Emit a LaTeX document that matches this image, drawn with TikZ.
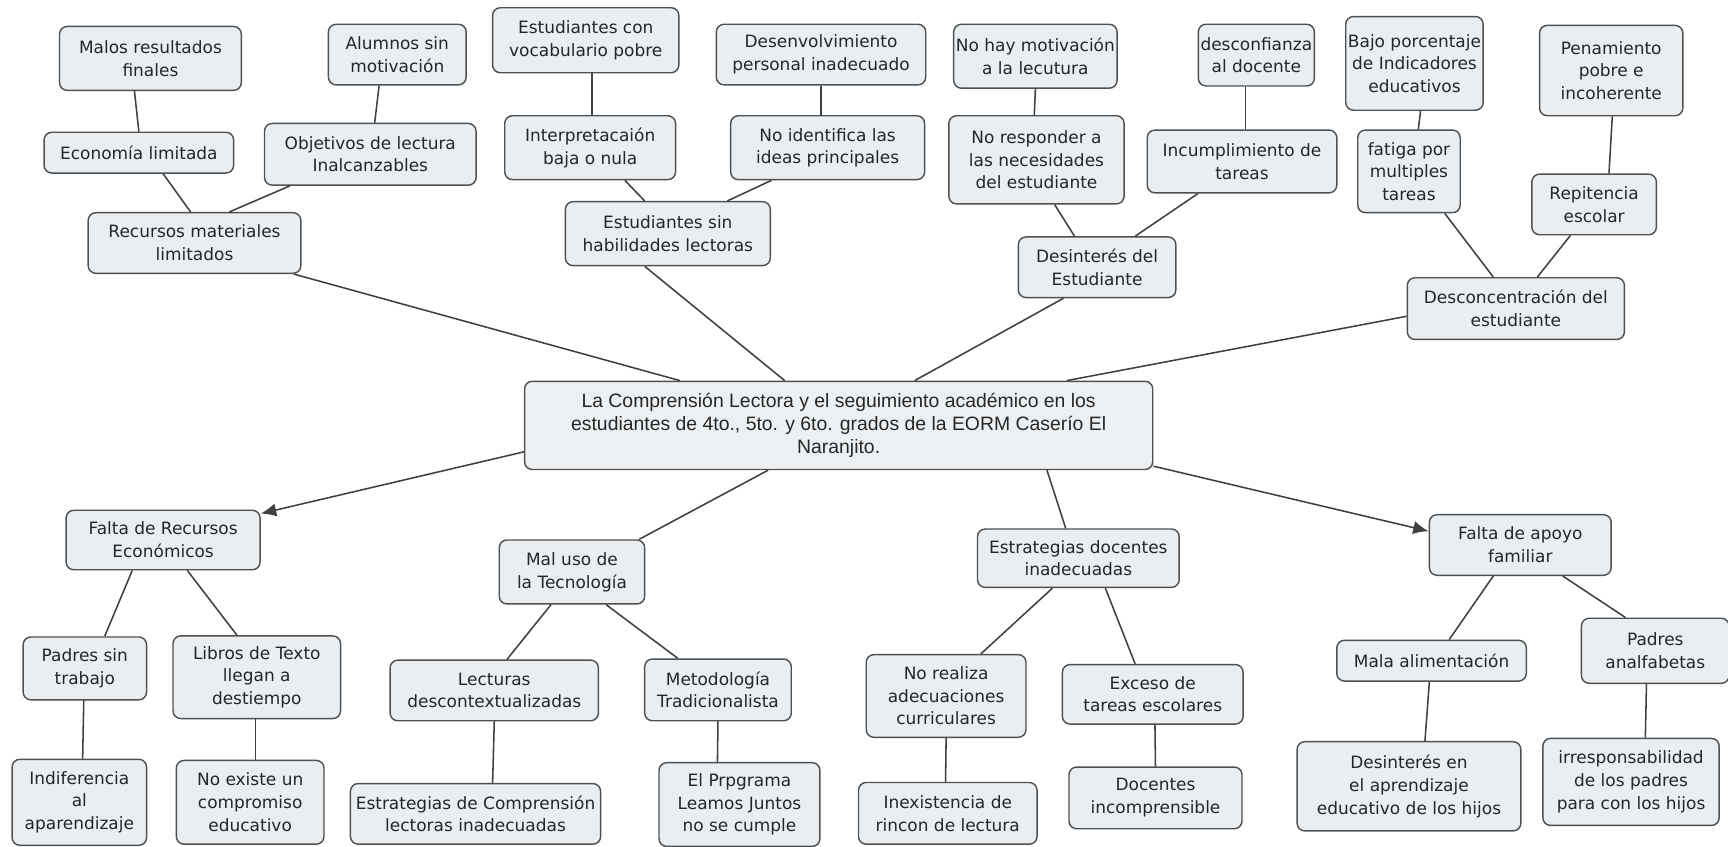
\documentclass[tikz,border=0pt]{standalone}
\usepackage{fontspec}
\setmainfont{DejaVu Sans}
\newfontfamily\cfont{Liberation Sans}
\usetikzlibrary{arrows.meta,calc}
\definecolor{boxfill}{HTML}{E8EEF2}
\definecolor{cfill}{HTML}{EDF0F2}
\definecolor{boxline}{HTML}{505050}
\definecolor{linkc}{HTML}{404040}
\definecolor{txt}{HTML}{262626}
\tikzset{
  cbox/.style={draw=boxline, fill=boxfill, text=txt, rounded corners=3.5pt, line width=0.65pt, align=center,
    font=\fontsize{7.7}{10.3}\selectfont, inner sep=1pt},
  sz/.style 2 args={minimum width=#1*0.5pt, minimum height=#2*0.5pt},
  link/.style={draw=linkc, line width=0.7pt},
  arr/.style={link, -{Latex[length=7pt,width=6pt]}},
}
\begin{document}
\begin{tikzpicture}[x=0.5pt,y=-0.5pt]
\useasboundingbox[fill=white] (0,0) rectangle (1568,768);
% top
\node[cbox,sz={165}{58}] (malos) at (136.5,53) {Malos resultados\\finales};
\node[cbox,sz={125}{55}] (alumnos) at (360.5,49.5) {Alumnos sin\\motivación};
\node[cbox,sz={169}{59}] (vocab) at (531.5,36.5) {Estudiantes con\\vocabulario pobre};
\node[cbox,sz={190}{55}] (desenv) at (745,49.5) {Desenvolvimiento\\personal inadecuado};
\node[cbox,sz={141}{58}] (nohay) at (939.5,51) {No hay motivación\\a la lecutura};
\node[cbox,sz={94}{56}] (descon) at (1140,50) {desconfianza\\al docente};
\node[cbox,sz={123}{85}] (bajo) at (1283.5,57.5) {Bajo porcentaje\\de Indicadores\\educativos};
\node[cbox,sz={130}{82}] (pena) at (1462,64) {Penamiento\\pobre e\\incoherente};
\node[cbox,sz={172}{37}] (eco) at (126,138.5) {Economía limitada};
\node[cbox,sz={192}{56}] (obj) at (336,140) {Objetivos de lectura\\Inalcanzables};
\node[cbox,sz={155}{58}] (interp) at (535.5,134) {Interpretacaión\\baja o nula};
\node[cbox,sz={176}{58}] (noiden) at (751,134) {No identifica las\\ideas principales};
\node[cbox,sz={159}{80}] (noresp) at (940.5,145) {No responder a\\las necesidades\\del estudiante};
\node[cbox,sz={172}{57}] (incump) at (1127,146.5) {Incumplimiento de\\tareas};
\node[cbox,sz={93}{75}] (fatiga) at (1278.5,155.5) {fatiga por\\multiples\\tareas};
\node[cbox,sz={113}{55}] (repit) at (1446.5,185.5) {Repitencia\\escolar};
\node[cbox,sz={193}{55}] (recursos) at (176.5,220.5) {Recursos materiales\\limitados};
\node[cbox,sz={186}{58}] (sinhab) at (606,212) {Estudiantes sin\\habilidades lectoras};
\node[cbox,sz={143}{55}] (desint) at (995.5,242.5) {Desinterés del\\Estudiante};
\node[cbox,sz={197}{56}] (descc) at (1375.5,280) {Desconcentración del\\estudiante};
% center
\node[cbox,fill=cfill,sz={570}{80},font={\cfont\fontsize{8.8}{10.5}\selectfont}] (ctr) at (761,386)
  {La Comprensión Lectora y el seguimiento académico en los\\estudiantes de 4to., 5to. y 6to. grados de la EORM Caserío El\\Naranjito.};
% bottom
\node[cbox,sz={176}{54}] (faltarec) at (148,490) {Falta de Recursos\\Económicos};
\node[cbox,sz={132}{58}] (maluso) at (519,519) {Mal uso de\\la Tecnología};
\node[cbox,sz={183}{53}] (estdoc) at (978.5,506.5) {Estrategias docentes\\inadecuadas};
\node[cbox,sz={165}{55}] (faltaapo) at (1379.5,494.5) {Falta de apoyo\\familiar};
\node[cbox,sz={112}{57}] (padres) at (77,606.5) {Padres sin\\trabajo};
\node[cbox,sz={152}{75}] (libros) at (233,614.5) {Libros de Texto\\llegan a\\destiempo};
\node[cbox,sz={189}{55}] (lect) at (448.5,626.5) {Lecturas\\descontextualizadas};
\node[cbox,sz={133}{56}] (metod) at (651.5,626) {Metodología\\Tradicionalista};
\node[cbox,sz={145}{75}] (norea) at (858.5,631.5) {No realiza\\adecuaciones\\curriculares};
\node[cbox,sz={164}{54}] (exceso) at (1046,630) {Exceso de\\tareas escolares};
\node[cbox,sz={172}{37}] (malali) at (1299,599.5) {Mala alimentación};
\node[cbox,sz={134}{59}] (padana) at (1502,590.5) {Padres\\analfabetas};
\node[cbox,sz={122}{78}] (indif) at (72,728) {Indiferencia\\al\\aparendizaje};
\node[cbox,sz={134}{76}] (noexi) at (227,728) {No existe un\\compromiso\\educativo};
\node[cbox,sz={227}{55}] (estcomp) at (431.5,738.5) {Estrategias de Comprensión\\lectoras inadecuadas};
\node[cbox,sz={146}{76}] (prog) at (671,730) {El Prpgrama\\Leamos Juntos\\no se cumple};
\node[cbox,sz={162}{56}] (inex) at (860,738) {Inexistencia de\\rincon de lectura};
\node[cbox,sz={157}{56}] (doc) at (1048.5,724) {Docentes\\incomprensible};
\node[cbox,sz={203}{81}] (desen) at (1278.5,713.5) {Desinterés en\\el aprendizaje\\educativo de los hijos};
\node[cbox,sz={160}{79}] (irres) at (1480,709.5) {irresponsabilidad\\de los padres\\para con los hijos};
% top links
\draw[link] ($(malos.south)+(-14.5,0)$) -- (eco.north);
\draw[link] ($(eco.south)+(22,0)$) -- ($(recursos.north)+(-3.5,0)$);
\draw[link] ($(alumnos.south)+(-16.5,0)$) -- ($(obj.north)+(4,0)$);
\draw[link] ($(obj.south)+(-73,0)$) -- ($(recursos.north)+(31.5,0)$);
\draw[link] ($(recursos.south)+(90,0)$) -- ($(ctr.north)+(-144,0)$);
\draw[link] ($(vocab.south)+(5.5,0)$) -- ($(interp.north)+(1.5,0)$);
\draw[link] ($(interp.south)+(31.5,0)$) -- ($(sinhab.north)+(-21,0)$);
\draw[link] (desenv.south) -- ($(noiden.north)+(-6,0)$);
\draw[link] ($(noiden.south)+(-51,0)$) -- ($(sinhab.north)+(54,0)$);
\draw[link] ($(sinhab.south)+(-21,0)$) -- ($(ctr.north)+(-49,0)$);
\draw[link] (nohay.south) -- ($(noresp.north)+(-2,0)$);
\draw[link] ($(noresp.south)+(16.5,0)$) -- ($(desint.north)+(-20.5,0)$);
\draw[link] ($(descon.south)+(-10,0)$) -- ($(incump.north)+(3,0)$);
\draw[link] ($(incump.south)+(-40,0)$) -- ($(desint.north)+(34.5,0)$);
\draw[link] ($(desint.south)+(-30.5,0)$) -- ($(ctr.north)+(69,0)$);
\draw[link] ($(bajo.south)+(5.5,0)$) -- ($(fatiga.north)+(8.5,0)$);
\draw[link] ($(fatiga.south)+(32.5,0)$) -- ($(descc.north)+(-20.5,0)$);
\draw[link] ($(pena.south)+(1,0)$) -- ($(repit.north)+(13.5,0)$);
\draw[link] ($(repit.south)+(-21.5,0)$) -- ($(descc.north)+(19.5,0)$);
\draw[link] ($(descc.west)+(0,7)$) -- ($(ctr.north)+(207,0)$);
% bottom links
\draw[arr] ($(ctr.west)+(0,24)$) -- ($(faltarec.east)+(0,-24)$);
\draw[link] ($(ctr.south)+(-64,0)$) -- ($(maluso.north)+(61,0)$);
\draw[link] ($(ctr.south)+(189,0)$) -- ($(estdoc.north)+(-11.5,0)$);
\draw[arr] ($(ctr.east)+(0,37)$) -- ($(faltaapo.west)+(0,-12.5)$);
\draw[link] ($(faltarec.south)+(-28,0)$) -- ($(padres.north)+(18,0)$);
\draw[link] ($(faltarec.south)+(22,0)$) -- ($(libros.north)+(-18,0)$);
\draw[link] ($(maluso.south)+(-19,0)$) -- ($(lect.north)+(11.5,0)$);
\draw[link] ($(maluso.south)+(31,0)$) -- ($(metod.north)+(-36.5,0)$);
\draw[link] ($(estdoc.south)+(-23.5,0)$) -- ($(norea.north)+(31.5,0)$);
\draw[link] ($(estdoc.south)+(24.5,0)$) -- ($(exceso.north)+(-16,0)$);
\draw[link] ($(faltaapo.south)+(-24.5,0)$) -- ($(malali.north)+(16,0)$);
\draw[link] ($(faltaapo.south)+(38.5,0)$) -- ($(padana.north)+(-27,0)$);
\draw[link] ($(padres.south)+(-1,0)$) -- ($(indif.north)+(3,0)$);
\draw[link] ($(libros.south)+(-1,0)$) -- ($(noexi.north)+(5,0)$);
\draw[link] (lect.south) -- ($(estcomp.north)+(15.5,0)$);
\draw[link] (metod.south) -- ($(prog.north)+(-20,0)$);
\draw[link] (norea.south) -- ($(inex.north)+(-2,0)$);
\draw[link] ($(exceso.south)+(2,0)$) -- (doc.north);
\draw[link] ($(malali.south)+(-2,0)$) -- ($(desen.north)+(14.5,0)$);
\draw[link] ($(padana.south)+(-8,0)$) -- ($(irres.north)+(13,0)$);
\end{tikzpicture}
\end{document}
